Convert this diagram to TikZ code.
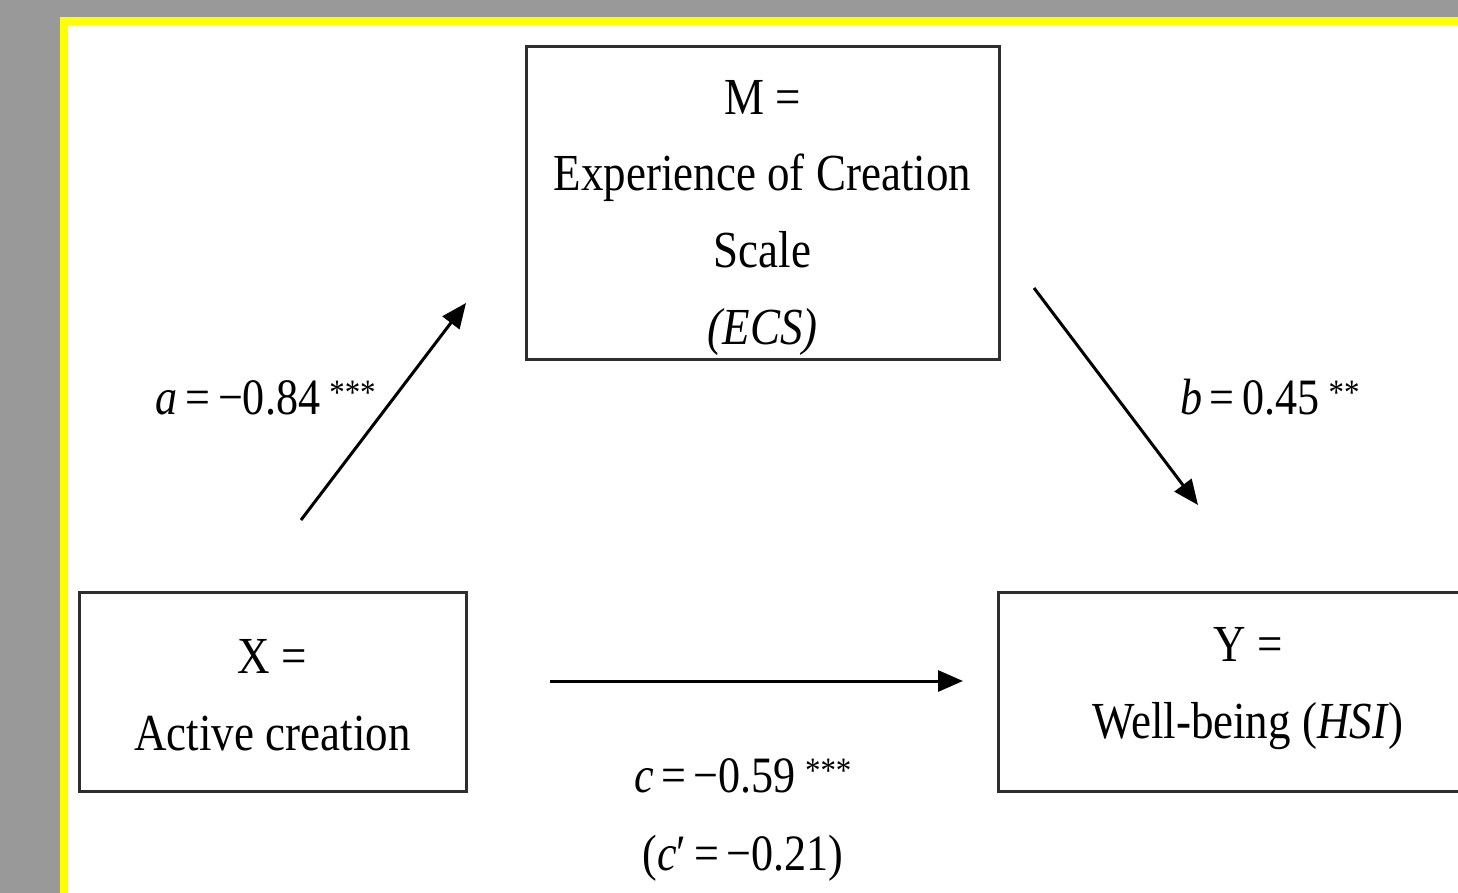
\documentclass[tikz,border=0pt]{standalone}
\usepackage{fontspec}
\setmainfont[FakeStretch=0.865]{Liberation Serif}
\usetikzlibrary{arrows.meta}
\definecolor{bggray}{HTML}{999999}
\definecolor{frameyellow}{HTML}{FFFF00}
\definecolor{boxline}{HTML}{2E2E2E}
\newcommand{\eqsp}{\hspace{0.15em}}
\begin{document}
\begin{tikzpicture}[x=1pt,y=-1pt,
  varbox/.style={draw=boxline, line width=3pt, inner sep=0pt},
  boxtext/.style={font=\fontsize{52}{76.5}\selectfont, align=center, inner sep=0pt, anchor=base},
  coef/.style={font=\fontsize{51}{62}\selectfont, inner sep=0pt, anchor=base},
  arr/.style={line width=3pt, -{Triangle[length=25pt,width=21pt]}}]
\useasboundingbox (0,0) rectangle (1458,893);
\fill[bggray] (0,0) rectangle (1458,893);
\fill[frameyellow] (60,17) rectangle (1458,893);
\fill[white] (68,25) rectangle (1458,893);

% boxes
\node[varbox, minimum width=473pt, minimum height=312pt] (M) at (762.5,203) {};
\node[varbox, minimum width=387pt, minimum height=199pt] (X) at (272.5,691.5) {};
\node[varbox, minimum width=500pt, minimum height=199pt] (Y) at (1248,691.5) {};

% box texts (anchored at the baseline of the last line)
\node[boxtext] (Mtext) at (762.5,344) {M =\\Experience of Creation\\Scale\\\textit{(ECS)}};
\node[boxtext] (Xtext) at (272.5,750) {X =\\Active creation};
\node[boxtext] (Ytext) at (1248,738) {Y =\\Well-being (\textit{HSI})};

% arrows
\coordinate (a0) at (301,520);
\coordinate (a1) at (466,303);
\coordinate (b0) at (1034,288);
\coordinate (b1) at (1198,505);
\coordinate (c0) at (550,681);
\coordinate (c1) at (963,681);
\draw[arr] (a0) -- (a1);
\draw[arr] (b0) -- (b1);
\draw[arr] (c0) -- (c1);

% coefficient labels
\node[coef] (alabel) at (266,414) {\textit{a}\eqsp=\eqsp−0.84\hspace{0.18em}\textsuperscript{***}};
\node[coef] (blabel) at (1270,414) {\textit{b}\eqsp=\eqsp0.45\hspace{0.18em}\textsuperscript{**}};
\node[coef] (clabel) at (743,792) {\textit{c}\eqsp=\eqsp−0.59\hspace{0.18em}\textsuperscript{***}};
\node[coef] (cplabel) at (743,870) {(\textit{c}′\eqsp=\eqsp−0.21)};
\end{tikzpicture}
\end{document}
